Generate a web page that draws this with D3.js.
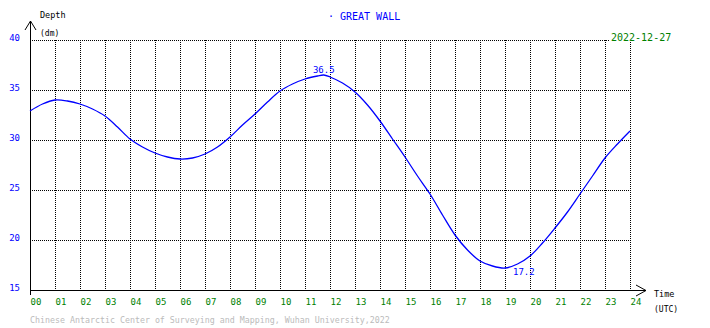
<!DOCTYPE html>
<html>
<head>
<meta charset="utf-8">
<script src="https://cdn.jsdelivr.net/npm/d3@7"></script>
<style>
  html, body { margin: 0; padding: 0; background: #fff; }
  svg { display: block; }
  text { font-family: "DejaVu Sans Mono", "Liberation Mono", monospace; }
</style>
</head>
<body>
<svg id="chart" width="710" height="328"></svg>
<script>
// Tide curve for Great Wall station, hourly UTC time axis
const hours = [0, 0.5, 1, 1.5, 2, 2.5, 3, 3.5, 4, 4.5, 5, 5.5, 6, 6.5, 7, 7.5, 8, 8.5, 9, 9.5,
  10, 10.5, 11, 11.5, 11.75, 12, 12.5, 13, 13.5, 14, 14.5, 15, 15.5, 16, 16.5, 17, 17.5, 18,
  18.5, 19, 19.5, 20, 20.5, 21, 21.5, 22, 22.5, 23, 23.5, 24];
const depth = [32.9, 33.6, 34.0, 33.9, 33.6, 33.1, 32.4, 31.3, 30.1, 29.3, 28.7, 28.3, 28.1, 28.2, 28.6, 29.3,
  30.3, 31.5, 32.6, 33.8, 34.9, 35.6, 36.1, 36.4, 36.5, 36.3, 35.7, 34.8, 33.5, 31.9, 30.1, 28.3,
  26.4, 24.6, 22.5, 20.5, 19.0, 17.9, 17.4, 17.2, 17.6, 18.4, 19.7, 21.2, 22.8, 24.6, 26.4, 28.2, 29.6, 30.9];
const hourLabels = ["00","01","02","03","04","05","06","07","08","09","10","11","12",
  "13","14","15","16","17","18","19","20","21","22","23","24"];
const depthTicks = [15, 20, 25, 30, 35, 40];
const stationName = "GREAT WALL";
const dateLabel = "2022-12-27";
const footer = "Chinese Antarctic Center of Surveying and Mapping, Wuhan University,2022";

const svg = d3.select("#chart");
const x = d3.scaleLinear().domain([0, 24]).range([30, 630]);
const y = d3.scaleLinear().domain([15, 40]).range([290, 40]);

const BLUE = "#0000ff", GREEN = "#008000";

// dotted grid
const grid = svg.append("g").attr("shape-rendering", "crispEdges")
  .attr("stroke", "#000").attr("stroke-width", 1).attr("stroke-dasharray", "1,1");
grid.selectAll("line.h").data(depthTicks.filter(d => d > 15)).join("line")
  .attr("class", "h")
  .attr("x1", x(0)).attr("x2", x(24))
  .attr("y1", d => y(d) + 0.5).attr("y2", d => y(d) + 0.5);
grid.selectAll("line.v").data(d3.range(1, 25)).join("line")
  .attr("class", "v")
  .attr("x1", d => x(d) + 0.5).attr("x2", d => x(d) + 0.5)
  .attr("y1", y(40)).attr("y2", y(15));

// axes with arrowheads
const axes = svg.append("g").attr("stroke", "#000").attr("stroke-width", 1).attr("fill", "none");
axes.append("line").attr("shape-rendering", "crispEdges")
  .attr("x1", x(0) + 0.5).attr("x2", x(0) + 0.5).attr("y1", 21).attr("y2", y(15) + 5);
axes.append("line").attr("shape-rendering", "crispEdges")
  .attr("x1", x(0)).attr("x2", 646).attr("y1", y(15) + 0.5).attr("y2", y(15) + 0.5);
axes.append("path").attr("d", `M${x(0) - 5},30 L${x(0) + 0.5},21 L${x(0) + 6},30`);
axes.append("path").attr("d", `M636,285 L646,${y(15) + 0.5} L636,296`);

// y tick labels
svg.append("g").selectAll("text").data(depthTicks).join("text")
  .attr("x", 20).attr("y", d => y(d) + 0.5)
  .attr("text-anchor", "end").attr("font-size", 9).attr("fill", BLUE)
  .text(d => d);

// x tick labels
svg.append("g").selectAll("text").data(d3.range(0, 25)).join("text")
  .attr("x", d => x(d) + 0.5).attr("y", 305)
  .attr("font-size", 9).attr("fill", GREEN)
  .text(d => hourLabels[d]);

// axis titles
svg.append("text").attr("x", 40).attr("y", 18).attr("font-size", 8.5).attr("fill", "#000").text("Depth");
svg.append("text").attr("x", 40).attr("y", 36).attr("font-size", 8).attr("fill", "#000").text("(dm)");
svg.append("text").attr("x", 654).attr("y", 297).attr("font-size", 8.5).attr("fill", "#000").text("Time");
svg.append("text").attr("x", 654).attr("y", 312).attr("font-size", 8).attr("fill", "#000").text("(UTC)");

// title and date
svg.append("text").attr("x", 328).attr("y", 20).attr("font-size", 10).attr("fill", BLUE).text("·");
svg.append("text").attr("x", 340).attr("y", 20).attr("font-size", 10).attr("fill", BLUE).text(stationName);
svg.append("rect").attr("x", 610).attr("y", 31).attr("width", 62).attr("height", 11).attr("fill", "#fff");
svg.append("text").attr("x", 611).attr("y", 41).attr("font-size", 10).attr("fill", GREEN).text(dateLabel);

// tide curve
const pts = hours.map((h, i) => [h, depth[i]]);
svg.append("path").datum(pts)
  .attr("fill", "none").attr("stroke", BLUE).attr("stroke-width", 1.3)
  .attr("d", d3.line().x(d => x(d[0])).y(d => y(d[1])).curve(d3.curveCatmullRom.alpha(0.5)));

// high / low water labels
const iMax = d3.maxIndex(depth), iMin = d3.minIndex(depth);
svg.append("text").attr("x", x(hours[iMax])).attr("y", y(depth[iMax]) - 2)
  .attr("text-anchor", "middle").attr("font-size", 9).attr("fill", BLUE)
  .text(depth[iMax].toFixed(1));
svg.append("text").attr("x", x(hours[iMin]) + 8).attr("y", y(depth[iMin]) + 7)
  .attr("font-size", 9).attr("fill", BLUE)
  .text(depth[iMin].toFixed(1));

// footer
svg.append("text").attr("x", 30).attr("y", 323).attr("font-size", 8.3).attr("fill", "#bbbbbb").text(footer);
</script>
</body>
</html>
